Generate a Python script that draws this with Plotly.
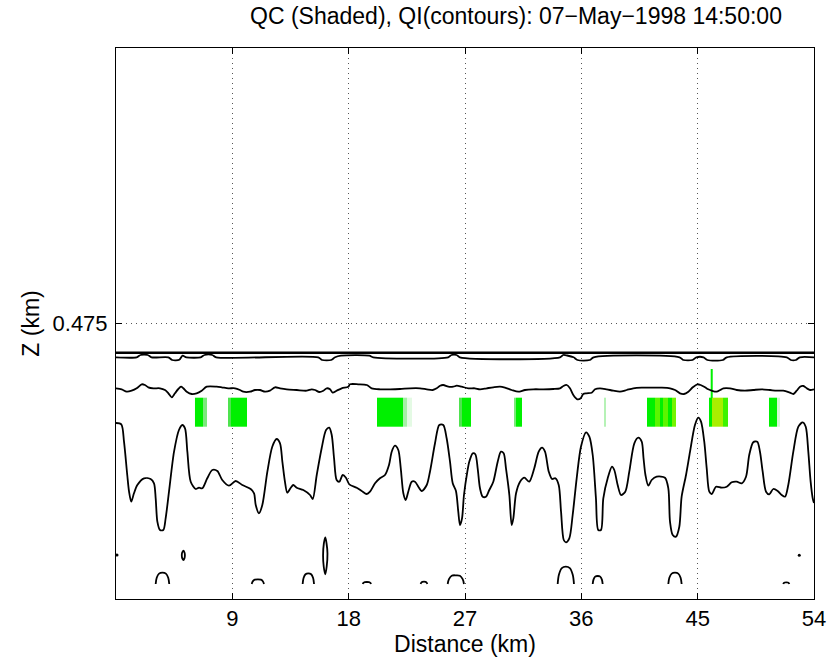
import plotly.graph_objects as go

# ---- cloud water (QC) shading: segments along distance (km), value 0..1 ----
qc_row_lo = [0.473968, 0.474258]   # Z edges (km) of lower shaded layer
qc_row_hi = [0.474258, 0.474545]   # Z edges (km) of upper shaded layer
qc_lo_segments = [
    (6.11, 6.73, 0.6), (6.73, 7.06, 0.45), (8.69, 8.90, 0.5), (8.90, 10.11, 0.6),
    (20.17, 22.18, 0.6), (22.18, 22.49, 0.4), (22.49, 22.88, 0.2),
    (26.54, 26.74, 0.5), (26.74, 27.46, 0.6), (30.81, 30.95, 0.45), (30.95, 31.43, 0.6),
    (37.75, 37.91, 0.35), (41.10, 41.70, 0.6), (41.70, 42.09, 0.75), (42.09, 42.32, 0.6),
    (42.32, 42.70, 0.75), (42.70, 42.99, 0.6), (42.99, 43.32, 0.8),
    (45.90, 46.09, 0.6), (46.09, 46.96, 0.9), (46.96, 47.38, 0.7),
    (50.54, 51.11, 0.6), (51.11, 51.37, 0.25),
]
qc_hi_segments = [(46.01, 46.14, 0.6)]

# ---- cloud ice (QI) contour lines ----
top_x = [0.0, 54.0]
top_z = [0.474708, 0.474708]

upper_x = [0.00, 1.60, 1.90, 2.45, 2.75, 4.05, 4.35, 4.90, 5.15, 5.45, 6.55, 6.85, 7.45, 7.75,
           15.65, 15.95, 16.65, 16.95, 17.40, 19.60, 19.90, 25.70, 25.95, 26.35, 26.60,
           34.35, 34.60, 34.90, 35.40, 35.70, 36.65, 36.95, 43.60, 43.90, 44.60, 44.90,
           45.45, 45.75, 46.95, 47.25, 51.90, 52.20, 52.60, 52.90, 54.00]
upper_z = [0.474662, 0.474662, 0.474685, 0.474685, 0.474662, 0.474662, 0.474635, 0.474638,
           0.474678, 0.474662, 0.474662, 0.474685, 0.474685, 0.474662, 0.474662, 0.474635,
           0.474635, 0.474662, 0.474678, 0.474678, 0.474662, 0.474662, 0.474685, 0.474685,
           0.474662, 0.474662, 0.474685, 0.474680, 0.474662, 0.474635, 0.474635, 0.474662,
           0.474662, 0.474635, 0.474635, 0.474662, 0.474662, 0.474635, 0.474635, 0.474662,
           0.474662, 0.474635, 0.474635, 0.474662, 0.474662]

middle_x = [0.00, 0.44, 0.83, 1.21, 1.60, 1.99, 2.24, 2.50, 2.89, 3.40, 3.79, 4.05, 4.31, 4.56,
            4.82, 5.03, 5.21, 5.47, 5.86, 6.24, 6.63, 7.02, 7.79, 8.18, 8.69, 9.21, 9.59, 9.85,
            10.37, 10.75, 11.14, 11.53, 11.91, 12.30, 12.69, 13.21, 13.98, 14.75, 15.14, 15.40,
            15.73, 16.04, 16.30, 16.56, 16.76, 17.07, 17.46, 17.97, 18.10, 18.75, 19.40, 19.78,
            20.42, 21.20, 21.97, 22.75, 23.52, 24.04, 24.50, 24.81, 25.07, 25.32, 25.71, 26.09,
            26.36, 26.74, 27.26, 27.77, 28.16, 28.68, 29.19, 29.71, 30.09, 30.61, 31.12, 31.64,
            32.28, 33.06, 33.83, 34.35, 34.61, 34.87, 35.12, 35.38, 35.69, 35.95, 36.15, 36.41,
            36.80, 37.06, 37.44, 37.96, 38.47, 38.99, 39.51, 40.02, 40.67, 41.44, 42.22, 42.86,
            43.25, 43.63, 43.94, 44.28, 44.62, 44.97, 45.23, 45.57, 45.82, 46.09, 46.47, 46.74,
            46.99, 47.50, 48.02, 48.66, 49.30, 49.95, 50.60, 51.11, 51.62, 52.14, 52.40, 52.66,
            52.92, 53.18, 53.44, 53.70, 54.00]
middle_z = [0.474352, 0.474342, 0.474318, 0.474328, 0.474352, 0.474392, 0.474385, 0.474362,
            0.474352, 0.474352, 0.474335, 0.474302, 0.474262, 0.474302, 0.474345, 0.474368,
            0.474352, 0.474318, 0.474295, 0.474302, 0.474328, 0.474368, 0.474368, 0.474362,
            0.474352, 0.474352, 0.474335, 0.474318, 0.474318, 0.474335, 0.474335, 0.474318,
            0.474328, 0.474362, 0.474352, 0.474342, 0.474335, 0.474328, 0.474342, 0.474335,
            0.474315, 0.474328, 0.474352, 0.474342, 0.474308, 0.474328, 0.474352, 0.474368,
            0.474392, 0.474392, 0.474385, 0.474352, 0.474342, 0.474342, 0.474345, 0.474352,
            0.474352, 0.474342, 0.474335, 0.474352, 0.474378, 0.474385, 0.474368, 0.474368,
            0.474378, 0.474368, 0.474352, 0.474352, 0.474342, 0.474352, 0.474362, 0.474368,
            0.474358, 0.474335, 0.474318, 0.474335, 0.474342, 0.474342, 0.474345, 0.474352,
            0.474375, 0.474385, 0.474352, 0.474285, 0.474242, 0.474252, 0.474295, 0.474302,
            0.474308, 0.474342, 0.474352, 0.474342, 0.474328, 0.474318, 0.474335, 0.474352,
            0.474358, 0.474358, 0.474358, 0.474352, 0.474335, 0.474302, 0.474295, 0.474318,
            0.474362, 0.474392, 0.474385, 0.474362, 0.474342, 0.474328, 0.474318, 0.474335,
            0.474352, 0.474352, 0.474335, 0.474328, 0.474335, 0.474342, 0.474335, 0.474328,
            0.474328, 0.474308, 0.474295, 0.474328, 0.474368, 0.474375, 0.474352, 0.474335,
            0.474342]

lower_x = [0.00, 0.41, 0.62, 0.87, 1.01, 1.18, 1.39, 1.65, 2.17, 2.68, 2.94, 3.07, 3.20, 3.40,
           3.66, 3.84, 4.10, 4.49, 4.87, 5.13, 5.34, 5.52, 5.78, 6.17, 6.42, 6.68, 7.06, 7.45,
           7.84, 8.22, 8.74, 9.26, 9.77, 10.42, 10.68, 10.81, 11.06, 11.32, 11.71, 12.09, 12.43,
           12.69, 12.87, 13.07, 13.25, 13.52, 13.72, 13.98, 14.49, 15.01, 15.22, 15.53, 15.91,
           16.25, 16.50, 16.69, 16.87, 17.07, 17.28, 17.54, 17.79, 18.05, 18.62, 19.01, 19.40,
           19.65, 20.04, 20.42, 20.81, 21.12, 21.33, 21.58, 21.84, 22.03, 22.23, 22.41, 22.61,
           22.88, 23.13, 23.39, 23.65, 24.04, 24.29, 24.68, 25.01, 25.32, 25.58, 25.84, 26.05,
           26.30, 26.48, 26.61, 26.77, 26.92, 27.18, 27.33, 27.60, 27.80, 27.98, 28.16, 28.37,
           28.62, 28.88, 29.19, 29.53, 29.78, 29.99, 30.17, 30.43, 30.61, 30.74, 30.95, 31.26,
           31.59, 31.97, 32.36, 32.70, 32.96, 33.19, 33.48, 33.73, 33.99, 34.25, 34.43, 34.64,
           34.81, 35.07, 35.33, 35.64, 35.97, 36.36, 36.62, 36.88, 37.13, 37.31, 37.52, 37.70,
           38.04, 38.37, 38.55, 38.81, 39.07, 39.40, 39.71, 40.10, 40.41, 40.67, 40.81, 40.96,
           41.18, 41.44, 41.83, 42.47, 42.73, 42.86, 43.07, 43.32, 43.58, 43.76, 44.10, 44.41,
           44.79, 45.05, 45.26, 45.51, 45.70, 45.90, 46.09, 46.42, 46.86, 47.25, 47.63, 48.02,
           48.41, 48.74, 48.99, 49.30, 49.61, 49.82, 50.03, 50.29, 50.54, 50.85, 51.19, 51.50,
           51.76, 52.01, 52.40, 52.79, 53.13, 53.36, 53.56, 53.74, 53.90, 54.00]
lower_z = [0.474005, 0.473992, 0.473818, 0.473485, 0.473318, 0.473218, 0.473302, 0.473385,
           0.473452, 0.473445, 0.473402, 0.473252, 0.473018, 0.472935, 0.472935, 0.473052,
           0.473318, 0.473718, 0.473935, 0.473985, 0.473952, 0.473718, 0.473418, 0.473345,
           0.473358, 0.473352, 0.473452, 0.473535, 0.473525, 0.473435, 0.473378, 0.473425,
           0.473385, 0.473345, 0.473302, 0.473185, 0.473102, 0.473185, 0.473518, 0.473768,
           0.473845, 0.473802, 0.473618, 0.473418, 0.473308, 0.473358, 0.473385, 0.473358,
           0.473335, 0.473285, 0.473245, 0.473485, 0.473752, 0.473935, 0.473958, 0.473885,
           0.473652, 0.473435, 0.473418, 0.473485, 0.473458, 0.473392, 0.473358, 0.473325,
           0.473295, 0.473318, 0.473402, 0.473452, 0.473485, 0.473585, 0.473718, 0.473778,
           0.473735, 0.473552, 0.473302, 0.473235, 0.473318, 0.473418, 0.473418, 0.473368,
           0.473325, 0.473385, 0.473518, 0.473802, 0.473985, 0.473985, 0.473852, 0.473618,
           0.473402, 0.473325, 0.473118, 0.472985, 0.473052, 0.473285, 0.473518, 0.473618,
           0.473702, 0.473692, 0.473552, 0.473352, 0.473268, 0.473268, 0.473335, 0.473418,
           0.473618, 0.473718, 0.473702, 0.473552, 0.473285, 0.472985, 0.473052, 0.473302,
           0.473418, 0.473458, 0.473418, 0.473552, 0.473718, 0.473758, 0.473718, 0.473518,
           0.473445, 0.473452, 0.473385, 0.473118, 0.472835, 0.472812, 0.472852, 0.473085,
           0.473452, 0.473768, 0.473912, 0.473868, 0.473685, 0.473252, 0.472935, 0.472935,
           0.473252, 0.473452, 0.473568, 0.473535, 0.473385, 0.473285, 0.473318, 0.473518,
           0.473802, 0.473858, 0.473818, 0.473655, 0.473485, 0.473378, 0.473435, 0.473468,
           0.473458, 0.473352, 0.473018, 0.472885, 0.472868, 0.472968, 0.473268, 0.473485,
           0.473718, 0.473985, 0.474058, 0.474018, 0.473818, 0.473552, 0.473318, 0.473295,
           0.473368, 0.473358, 0.473368, 0.473412, 0.473418, 0.473402, 0.473468, 0.473685,
           0.473812, 0.473818, 0.473718, 0.473518, 0.473318, 0.473292, 0.473345, 0.473325,
           0.473285, 0.473268, 0.473385, 0.473718, 0.473968, 0.474012, 0.473968, 0.473718,
           0.473418, 0.473252, 0.473205]

# small closed contours near the bottom
loop_x = [
    [5.21, 5.30, 5.33, 5.30, 5.21, 5.12, 5.09, 5.12, 5.21],
    [16.19, 16.29, 16.36, 16.30, 16.19, 16.07, 16.02, 16.08, 16.19],
]
loop_z = [
    [0.472729, 0.472710, 0.472682, 0.472654, 0.472635, 0.472654, 0.472682, 0.472710, 0.472729],
    [0.472862, 0.472800, 0.472700, 0.472570, 0.472492, 0.472570, 0.472680, 0.472800, 0.472862],
]
dot_x = [0.08, 52.86]
dot_z = [0.472685, 0.472682]

# open contours cut by the bottom of the data domain
arch_x = [
    [3.07, 3.15, 3.33, 3.60, 3.86, 4.04, 4.12],
    [10.50, 10.58, 10.74, 10.98, 11.21, 11.37, 11.45],
    [14.44, 14.51, 14.66, 14.88, 15.10, 15.25, 15.32],
    [19.09, 19.14, 19.25, 19.41, 19.57, 19.68, 19.73],
    [23.57, 23.61, 23.70, 23.83, 23.95, 24.04, 24.08],
    [25.66, 25.76, 25.97, 26.29, 26.60, 26.82, 26.92],
    [34.17, 34.27, 34.49, 34.80, 35.11, 35.33, 35.43],
    [36.88, 36.94, 37.07, 37.27, 37.46, 37.59, 37.65],
    [42.73, 42.81, 42.99, 43.25, 43.50, 43.68, 43.76],
    [51.62, 51.66, 51.74, 51.86, 51.97, 52.05, 52.09],
]
arch_z = [
    [0.472395, 0.472457, 0.472499, 0.472508, 0.472499, 0.472457, 0.472395],
    [0.472395, 0.472421, 0.472438, 0.472442, 0.472438, 0.472421, 0.472395],
    [0.472395, 0.472454, 0.472493, 0.472502, 0.472493, 0.472454, 0.472395],
    [0.472395, 0.472406, 0.472413, 0.472415, 0.472413, 0.472406, 0.472395],
    [0.472395, 0.472408, 0.472416, 0.472418, 0.472416, 0.472408, 0.472395],
    [0.472395, 0.472443, 0.472478, 0.472482, 0.472478, 0.472443, 0.472395],
    [0.472395, 0.472490, 0.472554, 0.472568, 0.472554, 0.472490, 0.472395],
    [0.472395, 0.472439, 0.472469, 0.472475, 0.472469, 0.472439, 0.472395],
    [0.472395, 0.472457, 0.472499, 0.472508, 0.472499, 0.472457, 0.472395],
    [0.472395, 0.472404, 0.472410, 0.472412, 0.472410, 0.472404, 0.472395],
]

x_ticks = [9, 18, 27, 36, 45, 54]
y_ticks = [0.475]
title_text = "QC (Shaded), QI(contours): 07\u2212May\u22121998 14:50:00"

qc_colorscale = [
    [0.0, "#ffffff"], [0.2, "#e4fae4"], [0.4, "#a6efa6"], [0.5, "#4fe34f"],
    [0.6, "#00f000"], [0.75, "#5cf500"], [0.9, "#a8ee00"], [1.0, "#c8e800"],
]


def bricks(segments):
    """Turn (x0, x1, value) segments into heatmap cell edges and values."""
    edges = [segments[0][0]]
    vals = []
    for a, b, v in segments:
        if a > edges[-1]:
            vals.append(None)
            edges.append(a)
        vals.append(v)
        edges.append(b)
    return edges, vals


FONT = "Liberation Sans, Arial, Helvetica, sans-serif"
fig = go.Figure()

for segs, rows in ((qc_lo_segments, qc_row_lo), (qc_hi_segments, qc_row_hi)):
    ex, vals = bricks(segs)
    fig.add_trace(go.Heatmap(x=ex, y=rows, z=[vals], zmin=0, zmax=1,
                             colorscale=qc_colorscale, showscale=False,
                             hoverinfo="skip"))

line_style = dict(color="black", width=1.8)
fig.add_trace(go.Scatter(x=top_x, y=top_z, mode="lines",
                         line=dict(color="black", width=2.6)))
for xs, zs in ((upper_x, upper_z), (middle_x, middle_z), (lower_x, lower_z)):
    fig.add_trace(go.Scatter(x=xs, y=zs, mode="lines",
                             line=dict(shape="spline", smoothing=0.8, **line_style)))
for xs, zs in zip(loop_x, loop_z):
    fig.add_trace(go.Scatter(x=xs, y=zs, mode="lines",
                             line=dict(shape="spline", smoothing=1.0, **line_style)))
for xs, zs in zip(arch_x, arch_z):
    fig.add_trace(go.Scatter(x=xs, y=zs, mode="lines",
                             line=dict(shape="spline", smoothing=1.0, **line_style)))
fig.add_trace(go.Scatter(x=dot_x, y=dot_z, mode="markers",
                         marker=dict(color="black", size=3)))

axis_common = dict(
    showline=True, linecolor="black", linewidth=1, mirror="ticks",
    ticks="inside", ticklen=6, tickcolor="black",
    showgrid=True, gridcolor="#555555", gridwidth=1, griddash="1px,4px",
    zeroline=False, tickfont=dict(family=FONT, size=22, color="black"),
    automargin=False,
)

fig.update_layout(
    width=829, height=661,
    margin=dict(l=116, r=15, t=48, b=62, autoexpand=False),
    paper_bgcolor="white", plot_bgcolor="white",
    showlegend=False,
    font=dict(family=FONT, color="black"),
    title=dict(text=title_text, x=516 / 829, xanchor="center",
               y=1 - 16 / 661, yanchor="middle", automargin=False,
               font=dict(family=FONT, size=23, color="black")),
    xaxis=dict(range=[0, 54], tickvals=x_ticks, ticktext=[str(t) for t in x_ticks],
               ticklabelstandoff=0,
               title=dict(text="Distance (km)", font=dict(family=FONT, size=23), standoff=0),
               **axis_common),
    yaxis=dict(range=[0.472245, 0.477755], tickvals=y_ticks, ticktext=["0.475"],
               ticklabelstandoff=3,
               title=dict(text="Z (km)", font=dict(family=FONT, size=23), standoff=6),
               **axis_common),
)

fig.write_html("out.html")
